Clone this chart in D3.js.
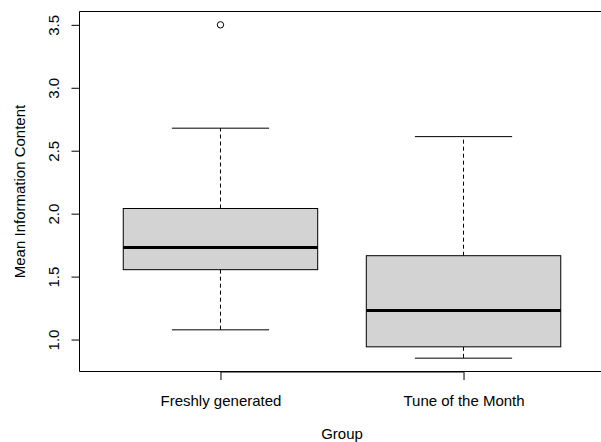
<!DOCTYPE html>
<html>
<head>
<meta charset="utf-8">
<script src="https://cdn.jsdelivr.net/npm/d3@7"></script>
<style>
  html, body { margin: 0; background: #fff; overflow: hidden; }
  svg { display: block; overflow: hidden; }
  text { font-family: "Liberation Sans", Arial, sans-serif; }
</style>
</head>
<body>
<div id="vis"></div>
<script>
// data
const GROUPS = ["Freshly generated", "Tune of the Month"];
const LOWER = [1.077, 0.852];
const Q1 = [1.555, 0.942];
const MEDIAN = [1.732, 1.230];
const Q3 = [2.041, 1.666];
const UPPER = [2.679, 2.612];
const OUTLIERS = [[3.5], []];
const Y_TICKS = [1.0, 1.5, 2.0, 2.5, 3.0, 3.5];

const WIDTH = 601;
const HEIGHT = 442;
const MARG = {left: 79.5, right: -3.5, top: 11, bottom: 70};

const svg = d3.select("#vis")
  .append("svg")
    .attr("width", WIDTH)
    .attr("height", HEIGHT);

// R style ranges: boxes at 1..n, xlim 0.5..n+0.5, then padded 4%
const xlo = 0.5, xhi = GROUPS.length + 0.5;
const X_SCALE = d3.scaleLinear()
  .domain([xlo - 0.04 * (xhi - xlo), xhi + 0.04 * (xhi - xlo)])
  .range([MARG.left, WIDTH - MARG.right]);

const allVals = LOWER.concat(UPPER, OUTLIERS.flat());
const ymin = d3.min(allVals), ymax = d3.max(allVals);
const pad = 0.04 * (ymax - ymin);
const Y_SCALE = d3.scaleLinear()
  .domain([ymin - pad, ymax + pad])
  .range([HEIGHT - MARG.bottom - 0.5, MARG.top + 0.5]);

const data = GROUPS.map((g, i) => ({
  name: g, pos: i + 1,
  lo: LOWER[i], q1: Q1[i], med: MEDIAN[i], q3: Q3[i], hi: UPPER[i],
  out: OUTLIERS[i]
}));

const bw = 0.8, sw = 0.4;

const boxes = svg.selectAll(".box")
  .data(data)
  .enter().append("g")
    .attr("class", "box");

// whiskers (dashed)
boxes.append("line")
  .attr("x1", d => X_SCALE(d.pos)).attr("x2", d => X_SCALE(d.pos))
  .attr("y1", d => Y_SCALE(d.q3)).attr("y2", d => Y_SCALE(d.hi))
  .attr("stroke", "#000").attr("stroke-dasharray", "4,3");
boxes.append("line")
  .attr("x1", d => X_SCALE(d.pos)).attr("x2", d => X_SCALE(d.pos))
  .attr("y1", d => Y_SCALE(d.q1)).attr("y2", d => Y_SCALE(d.lo))
  .attr("stroke", "#000").attr("stroke-dasharray", "4,3");

// staples
boxes.append("line")
  .attr("x1", d => X_SCALE(d.pos - sw / 2)).attr("x2", d => X_SCALE(d.pos + sw / 2))
  .attr("y1", d => Y_SCALE(d.hi)).attr("y2", d => Y_SCALE(d.hi))
  .attr("stroke", "#000");
boxes.append("line")
  .attr("x1", d => X_SCALE(d.pos - sw / 2)).attr("x2", d => X_SCALE(d.pos + sw / 2))
  .attr("y1", d => Y_SCALE(d.lo)).attr("y2", d => Y_SCALE(d.lo))
  .attr("stroke", "#000");

// boxes
boxes.append("rect")
  .attr("x", d => X_SCALE(d.pos - bw / 2))
  .attr("width", d => X_SCALE(d.pos + bw / 2) - X_SCALE(d.pos - bw / 2))
  .attr("y", d => Y_SCALE(d.q3))
  .attr("height", d => Y_SCALE(d.q1) - Y_SCALE(d.q3))
  .attr("fill", "#d3d3d3")
  .attr("stroke", "#000");

// medians
boxes.append("line")
  .attr("x1", d => X_SCALE(d.pos - bw / 2)).attr("x2", d => X_SCALE(d.pos + bw / 2))
  .attr("y1", d => Y_SCALE(d.med)).attr("y2", d => Y_SCALE(d.med))
  .attr("stroke", "#000").attr("stroke-width", 3);

// outliers
boxes.selectAll(".out")
  .data(d => d.out.map(v => ({pos: d.pos, v: v})))
  .enter().append("circle")
    .attr("cx", d => X_SCALE(d.pos))
    .attr("cy", d => Y_SCALE(d.v))
    .attr("r", 3.2)
    .attr("fill", "none")
    .attr("stroke", "#000");

// plot frame (right side runs off the canvas)
const fTop = MARG.top + 0.5, fBot = HEIGHT - MARG.bottom - 0.5;
svg.append("path")
  .attr("d", "M" + WIDTH + "," + fTop + "H" + MARG.left + "V" + fBot + "H" + WIDTH)
  .attr("fill", "none")
  .attr("stroke", "#000");

// y axis
const yAxis = svg.append("g")
  .attr("transform", "translate(" + MARG.left + ",0)")
  .call(d3.axisLeft(Y_SCALE).tickValues(Y_TICKS).tickSize(8).tickSizeOuter(0)
    .tickFormat(d3.format(".1f")));
yAxis.select(".domain")
  .attr("d", "M0," + Y_SCALE(Y_TICKS[0]) + "V" + Y_SCALE(Y_TICKS[Y_TICKS.length - 1]));
yAxis.selectAll("text")
  .attr("x", 0).attr("dy", null).attr("y", -20.5)
  .attr("transform", "rotate(-90)")
  .attr("text-anchor", "middle")
  .attr("font-size", "15px")
  .attr("fill", "#000")
  .style("font-family", "'Liberation Sans', Arial, sans-serif");

// x axis
const xAxis = svg.append("g")
  .attr("transform", "translate(0," + (HEIGHT - MARG.bottom) + ")")
  .call(d3.axisBottom(X_SCALE).tickValues(data.map(d => d.pos)).tickSize(8).tickSizeOuter(0)
    .tickFormat((d, i) => GROUPS[i]));
xAxis.select(".domain")
  .attr("d", "M" + X_SCALE(1) + ",0H" + X_SCALE(GROUPS.length));
xAxis.selectAll("text")
  .attr("y", 34).attr("dy", null)
  .attr("font-size", "15px")
  .attr("fill", "#000")
  .style("font-family", "'Liberation Sans', Arial, sans-serif");

// axis titles
svg.append("text")
  .attr("x", (MARG.left + WIDTH - MARG.right) / 2)
  .attr("y", 438.5)
  .attr("text-anchor", "middle")
  .attr("font-size", "15px")
  .text("Group");

svg.append("text")
  .attr("transform", "translate(25," + ((MARG.top + HEIGHT - MARG.bottom) / 2) + ") rotate(-90)")
  .attr("text-anchor", "middle")
  .attr("font-size", "15px")
  .text("Mean Information Content");
</script>
</body>
</html>
